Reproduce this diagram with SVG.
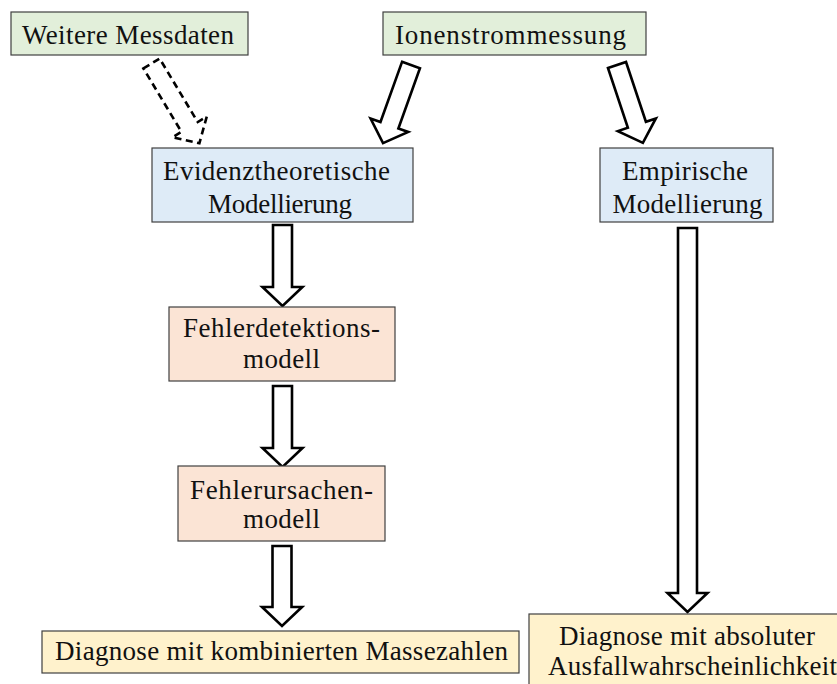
<svg xmlns="http://www.w3.org/2000/svg" width="837" height="684" viewBox="0 0 837 684">
  <style>
    .box { stroke: #404040; stroke-width: 1.2; }
    .src { fill: #E2EFDA; }
    .mod { fill: #DEEBF7; }
    .err { fill: #FBE4D5; }
    .out { fill: #FFF2CC; }
    .lbl { font-family: "Liberation Serif", "Times New Roman", serif; font-size: 27px; fill: #111; text-anchor: middle; }
    .arrow { fill: #fff; stroke: #000; stroke-width: 2.6; stroke-linejoin: miter; }
    .dashed { stroke-dasharray: 7 4.5; }
  </style>
  <rect width="837" height="684" fill="#fff"/>

  <!-- block arrows: tail at origin, pointing down, then placed and rotated -->
  <g id="connectors">
    <path class="arrow dashed" transform="translate(151.5,63.5) rotate(-31)" d="M-9.5,0 H9.5 V74 H20 L0,93 L-20,74 H-9.5 Z"/>
    <path class="arrow" transform="translate(411,65) rotate(19.7)" d="M-9.5,0 H9.5 V64 H20 L0,83 L-20,64 H-9.5 Z"/>
    <path class="arrow" transform="translate(617,65) rotate(-18.4)" d="M-9.5,0 H9.5 V63 H20 L0,82 L-20,63 H-9.5 Z"/>
    <path class="arrow" transform="translate(282.5,225)" d="M-9.5,0 H9.5 V62 H20 L0,81 L-20,62 H-9.5 Z"/>
    <path class="arrow" transform="translate(282.5,386)" d="M-9.5,0 H9.5 V62 H20 L0,81 L-20,62 H-9.5 Z"/>
    <path class="arrow" transform="translate(282,546)" d="M-9.5,0 H9.5 V61 H20 L0,80 L-20,61 H-9.5 Z"/>
    <path class="arrow" transform="translate(687.5,228)" d="M-9.5,0 H9.5 V365 H20 L0,384 L-20,365 H-9.5 Z"/>
  </g>

  <g id="weitere-messdaten">
    <rect class="box src" x="11" y="12" width="237" height="43"/>
    <text class="lbl" x="128" y="44" textLength="212">Weitere Messdaten</text>
  </g>

  <g id="ionenstrommessung">
    <rect class="box src" x="383" y="12" width="263" height="43"/>
    <text class="lbl" x="510.5" y="44" textLength="231">Ionenstrommessung</text>
  </g>

  <g id="evidenztheoretische-modellierung">
    <rect class="box mod" x="152" y="148" width="261" height="74"/>
    <text class="lbl" x="276.5" y="180" textLength="227">Evidenztheoretische</text>
    <text class="lbl" x="280" y="213" textLength="144">Modellierung</text>
  </g>

  <g id="empirische-modellierung">
    <rect class="box mod" x="600" y="148" width="173" height="74"/>
    <text class="lbl" x="685" y="180" textLength="126">Empirische</text>
    <text class="lbl" x="687.5" y="213" textLength="150">Modellierung</text>
  </g>

  <g id="fehlerdetektionsmodell">
    <rect class="box err" x="169" y="307" width="226" height="74"/>
    <text class="lbl" x="281.5" y="337" textLength="197">Fehlerdetektions-</text>
    <text class="lbl" x="281.5" y="368" textLength="77">modell</text>
  </g>

  <g id="fehlerursachenmodell">
    <rect class="box err" x="178" y="466" width="207" height="75"/>
    <text class="lbl" x="281.5" y="499" textLength="183">Fehlerursachen-</text>
    <text class="lbl" x="281.5" y="528" textLength="77">modell</text>
  </g>

  <g id="diagnose-massezahlen">
    <rect class="box out" x="42" y="631" width="477" height="42"/>
    <text class="lbl" x="281.5" y="660" textLength="453">Diagnose mit kombinierten Massezahlen</text>
  </g>

  <g id="diagnose-ausfallwahrscheinlichkeit">
    <rect class="box out" x="529" y="614" width="320" height="80"/>
    <text class="lbl" x="687" y="645" textLength="256">Diagnose mit absoluter</text>
    <text class="lbl" x="692.5" y="675" textLength="289">Ausfallwahrscheinlichkeit</text>
  </g>
</svg>
